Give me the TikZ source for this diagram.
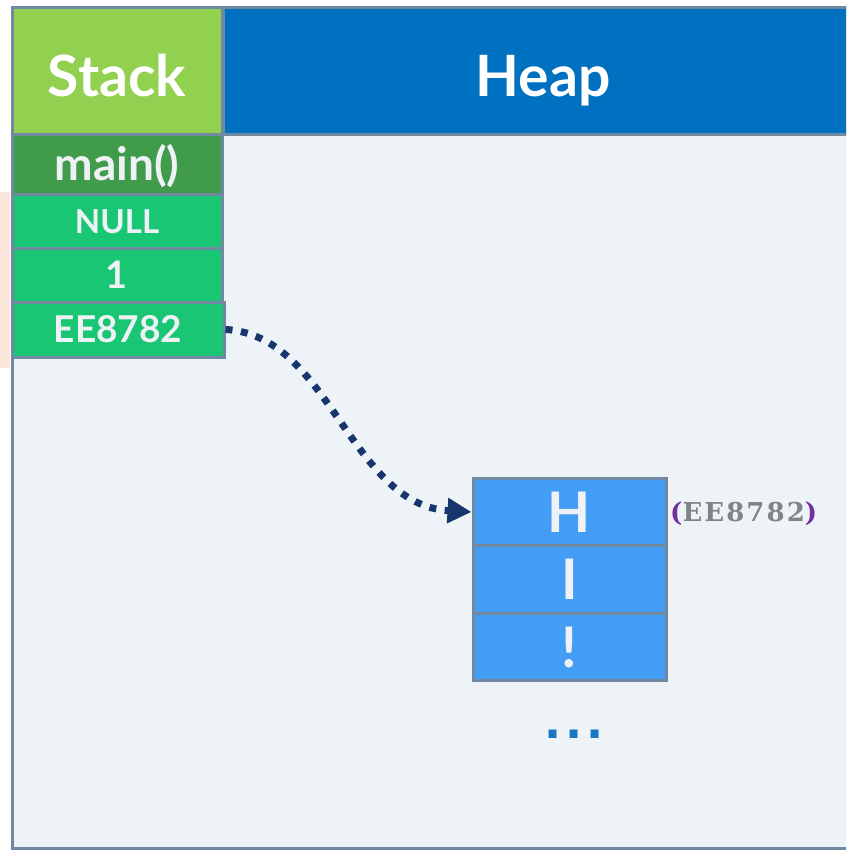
\documentclass[tikz,border=0pt]{standalone}
\usepackage{fontspec}
\setmainfont{Lato}
\newfontfamily\addrfont{DejaVu Serif}
\newfontfamily\dotfont{DejaVu Sans}
\usetikzlibrary{arrows.meta}

\definecolor{framec}{HTML}{7088A0}
\definecolor{paper}{HTML}{EEF3F8}
\definecolor{stackgreen}{HTML}{92D050}
\definecolor{heapblue}{HTML}{0070C0}
\definecolor{framegreen}{HTML}{409B4B}
\definecolor{vargreen}{HTML}{18C674}
\definecolor{cellblue}{HTML}{439DF5}
\definecolor{inktext}{HTML}{EEF2F6}
\definecolor{navy}{HTML}{17366E}
\definecolor{dotblue}{HTML}{1A78C2}
\definecolor{peach}{HTML}{F9E5DA}
\definecolor{addrgrey}{HTML}{7F8487}
\definecolor{purp}{HTML}{7030A0}

\tikzset{
  boxed/.style={draw=framec, line width=3pt, inner sep=0pt},
  header/.style={boxed, text=white, font=\fontsize{57}{62}\selectfont\bfseries,
    text height=51pt, text depth=0pt},
  slot/.style={boxed, fill=vargreen, text=inktext, minimum width=210pt},
  cellbox/.style={boxed, fill=cellblue, text=inktext, minimum width=193pt,
    minimum height=67.5pt, font=\fontsize{56}{60}\selectfont\bfseries},
  pointer/.style={navy, line width=7pt, dash pattern=on 7pt off 8.5pt,
    -{Triangle[length=24pt,width=24pt]}}
}

\begin{document}
\begin{tikzpicture}[x=1pt,y=-1pt]
\useasboundingbox (0,0) rectangle (846,850);
\clip (0,0) rectangle (846,850);

% side band and outer frame
\fill[peach] (0,192) rectangle (10,368);
\draw[framec, fill=paper, line width=3pt] (12,8) rectangle (900,848);

% column headers
\node[header, fill=stackgreen, minimum width=210pt, minimum height=127pt]
  (stack) at (117,71.5) {Stack};
\node[header, fill=heapblue, minimum width=640pt, minimum height=127pt]
  (heap) at (543,71.5) {\makebox[0pt]{Heap}};

% stack frame and its variables
\node[slot, fill=framegreen, minimum height=60pt, text height=40pt, text depth=8pt,
  font=\fontsize{46}{50}\selectfont\bfseries] (main) at (117,165) {main()};
\node[slot, minimum height=53pt, font=\fontsize{33}{36}\selectfont\bfseries]
  (null) at (117,221.5) {NULL};
\node[slot, minimum height=54pt, font=\fontsize{38}{42}\selectfont\bfseries]
  (one) at (117,275) {1};
\node[slot, minimum width=212pt, minimum height=55pt,
  font=\fontsize{37}{40}\selectfont\bfseries] (ptr) at (118,329.5) {EE8782};

% character array on the heap
\node[cellbox] (h) at (569.5,512) {H};
\node[cellbox] (i) at (569.5,579.5) {I};
\node[cellbox] (bang) at (569.5,647) {!};

\node[anchor=west, text=addrgrey, inner sep=0pt,
  font=\addrfont\bfseries\fontsize{26}{30}\selectfont\addfontfeature{LetterSpace=8}]
  (addr) at (670,514) {{\color{purp}(}EE8782{\color{purp})}};

\node[text=dotblue, inner sep=0pt, font=\dotfont\bfseries\fontsize{45}{48}\selectfont]
  (more) at (574,734) {.\hspace{4pt}.\hspace{4pt}.};

% pointer from the stack variable to the first character
\draw[pointer] (ptr.east) .. controls (330,335) and (350,505) .. (h.west);
\end{tikzpicture}
\end{document}
